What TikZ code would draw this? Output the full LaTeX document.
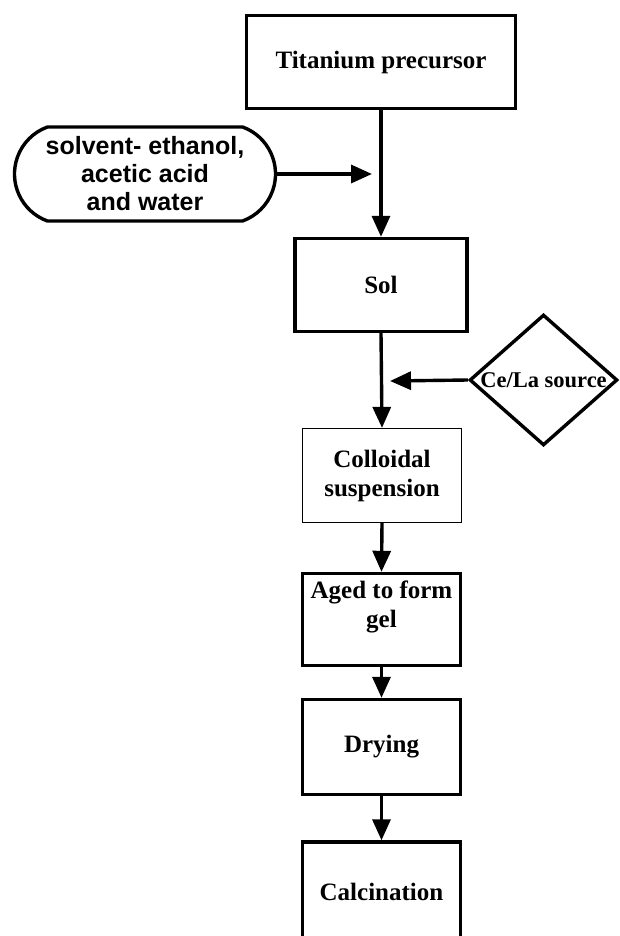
\documentclass[tikz,border=0pt]{standalone}
\usepackage{fontspec}
\setmainfont{Liberation Serif}
\newfontfamily\arialf{Liberation Sans}
\usetikzlibrary{arrows.meta,shapes.geometric,shapes.misc}
\begin{document}
\begin{tikzpicture}[x=1pt,y=-1pt,
  stepbox/.style={draw, line width=3.4pt, rectangle, align=center, inner sep=0pt,
    font=\fontsize{25}{29}\selectfont\bfseries},
  thinbox/.style={stepbox, line width=1.3pt},
  txt/.style={align=center, inner sep=0pt, font=\fontsize{25}{29}\selectfont\bfseries},
  arr/.style={line width=3.4pt, -{Triangle[length=21pt,width=18pt]}},
]
\useasboundingbox (0,0) rectangle (619,936);
\clip (0,0) rectangle (619,936);

\node[stepbox, minimum width=269pt, minimum height=93pt] (ti) at (381,62) {Titanium precursor};
\node[draw, line width=3.4pt, rounded rectangle, rounded rectangle arc length=140,
      minimum width=261pt, minimum height=94pt, inner sep=0pt, align=center,
      font=\arialf\fontsize{25}{28}\selectfont\bfseries] (solv) at (145,174)
      {solvent- ethanol,\\acetic acid\\and water};
\node[stepbox, minimum width=172pt, minimum height=93pt] (sol) at (381,285) {Sol};
\node[draw, line width=3.4pt, diamond, aspect=1.13, inner sep=1pt,
      font=\fontsize{22.5}{26}\selectfont\bfseries] (dia) at (543.5,380) {Ce/La source};
\node[thinbox, minimum width=159pt, minimum height=94pt] (col) at (382,475.5) {Colloidal\\suspension};
\node[stepbox, minimum width=158pt, minimum height=92pt] (aged) at (381.5,619.5) {};
\node[txt] (agedtxt) at (381.5,607) {Aged to form\\gel};
\node[stepbox, minimum width=158pt, minimum height=95pt] (dry) at (381.5,747) {Drying};
\node[stepbox, minimum width=158pt, minimum height=100pt] (calc) at (381.5,892) {Calcination};

\coordinate (m1) at (372,174);
\coordinate (m2) at (390,381);

\draw[arr] (ti.south) -- (sol.north);
\draw[arr] (solv.east) -- (m1);
\draw[arr] (sol.south) -- (col.north);
\draw[arr] (dia.west) -- (m2);
\draw[arr] (col.south) -- (aged.north);
\draw[arr] (aged.south) -- (dry.north);
\draw[arr] (dry.south) -- (calc.north);
\end{tikzpicture}
\end{document}
